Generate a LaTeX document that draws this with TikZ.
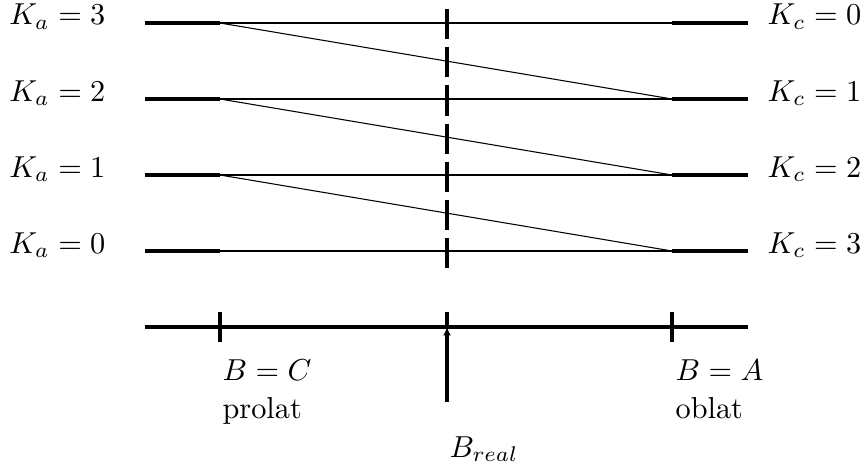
\documentclass[tikz,border=0pt]{standalone}
\usetikzlibrary{positioning, arrows.meta}

\begin{document}
\begin{tikzpicture}[x=0.33pt, y=-0.33pt, >={Latex[length=2.8pt, width=2.6pt]},
    level/.style={line width=0.66pt},
    levelend/.style={line width=1pt},
    corr/.style={line width=0.35pt},
    axisline/.style={line width=1pt},
    lbl/.style={inner sep=0pt}]
  \useasboundingbox (0,0) rectangle (862,471);
  % energy levels: K_a on the left, K_c on the right
  \foreach \a/\c/\y in {3/0/23, 2/1/99, 1/2/175, 0/3/251} {
    \coordinate (l\a) at (145,\y);
    \coordinate (p\a) at (220,\y);
    \coordinate (o\a) at (672,\y);
    \coordinate (r\a) at (748,\y);
    \draw[level] (l\a) -- (r\a);
    \draw[levelend] (l\a) -- (p\a);
    \draw[levelend] (o\a) -- (r\a);
    \node[lbl, anchor=base east] (ka\a) at (106,\y+2) {$K_a = \a$};
    \node[lbl, anchor=base west] (kc\c) at (767,\y+2) {$K_c = \c$};
  }
  % correlation lines
  \draw[corr] (p3) -- (o2);
  \draw[corr] (p2) -- (o1);
  \draw[corr] (p1) -- (o0);
  % position of the real molecule
  \coordinate (dtop) at (447,9);
  \coordinate (dbot) at (447,268);
  \draw[line width=1pt, dash pattern=on 10pt off 2.6pt] (dtop) -- (dbot);
  % asymmetry axis
  \coordinate (axl) at (145,327);
  \coordinate (axr) at (748,327);
  \coordinate (treal) at (447,327);
  \draw[axisline] (axl) -- (axr);
  \draw[axisline] (220,312) coordinate (tp) -- (220,342);
  \draw[axisline] (672,312) coordinate (to) -- (672,342);
  \draw[axisline] (447,312) coordinate (tr) -- (treal);
  \coordinate (areal) at (447,402);
  \draw[axisline, ->] (areal) -- (treal);
  \node[lbl, anchor=base west] (bc) at (222,380) {$B = C$};
  \node[lbl, anchor=base west] (prolat) at ([yshift=-12.8pt]bc.base west) {prolat};
  \node[lbl, anchor=base west] (ba) at (675,380) {$B = A$};
  \node[lbl, anchor=base west] (oblat) at ([yshift=-12.8pt]ba.base west) {oblat};
  \node[lbl, anchor=base west] (breal) at (449,457) {$B_{real}$};
\end{tikzpicture}
\end{document}
